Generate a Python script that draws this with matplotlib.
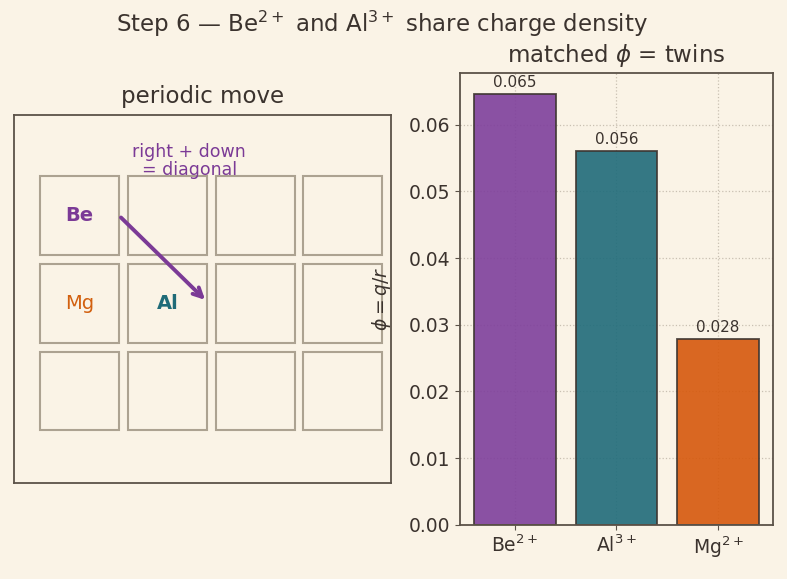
import matplotlib
matplotlib.use("Agg")
import matplotlib.pyplot as plt
from matplotlib.patches import Rectangle

BG = "#faf3e6"
INK = "#3b332e"
SPINE = "#5b5248"
PURPLE = "#7b3a96"
TEAL = "#1f6b78"
ORANGE = "#d2600f"

ions = ["Be$^{2+}$", "Al$^{3+}$", "Mg$^{2+}$"]
phi = [0.0645, 0.0561, 0.0278]
bar_colors = ["#7e3f9c", "#1f6b7a", "#d6580c"]

# periodic grid: 4 columns x 3 rows, element labels by (col, row)
n_cols, n_rows = 4, 3
elements = ["Be", "Mg", "Al"]
el_pos = [(0, 2), (0, 1), (1, 1)]
el_colors = [PURPLE, ORANGE, TEAL]
el_weight = ["bold", "normal", "bold"]

plt.rcParams["font.family"] = "DejaVu Sans"
plt.rcParams["text.color"] = INK
plt.rcParams["axes.labelcolor"] = INK
plt.rcParams["xtick.color"] = SPINE
plt.rcParams["ytick.color"] = SPINE
plt.rcParams["xtick.labelcolor"] = INK
plt.rcParams["ytick.labelcolor"] = INK

fig = plt.figure(figsize=(7.87, 5.79), dpi=100, facecolor=BG)

# left: periodic move
ax1 = fig.add_axes([0.0178, 0.1658, 0.479, 0.6356])
ax1.set_facecolor(BG)
for c in range(n_cols):
    for r in range(n_rows):
        ax1.add_patch(Rectangle((c, r), 0.9, 0.9, fill=False,
                                edgecolor="#aca291", lw=1.5))
for name, (c, r), col, w in zip(elements, el_pos, el_colors, el_weight):
    ax1.text(c + 0.45, r + 0.45, name, ha="center", va="center",
             color=col, fontsize=14, fontweight=w)
ax1.annotate("", xy=(1.88, 1.49), xytext=(0.92, 2.43),
             arrowprops=dict(arrowstyle="->", color=PURPLE, lw=2.8,
                             shrinkA=0, shrinkB=0, mutation_scale=16))
ax1.text(1.7, 3.08, "right + down\n= diagonal", ha="center", va="center",
         color=PURPLE, fontsize=12.5, linespacing=1.0)
ax1.set_xlim(-0.3, 4.0)
ax1.set_ylim(-0.6, 3.6)
ax1.set_xticks([])
ax1.set_yticks([])
for s in ax1.spines.values():
    s.set_color(SPINE)
    s.set_linewidth(1.3)
ax1.set_title("periodic move", fontsize=16.5, color=INK, pad=8.5)

# right: phi bars
ax2 = fig.add_axes([0.5845, 0.0933, 0.3977, 0.7807])
ax2.set_facecolor(BG)
ax2.grid(True, linestyle=":", color="#c9c0b2", lw=0.9)
ax2.set_axisbelow(True)
bars = ax2.bar(ions, phi, color=bar_colors, edgecolor="#3d3530",
               lw=1.3, alpha=0.9, width=0.8)
for b, v in zip(bars, phi):
    ax2.text(b.get_x() + b.get_width() / 2, v + 0.0006, f"{v:.3f}",
             ha="center", va="bottom", fontsize=11, color=INK)
ax2.set_ylabel(r"$\phi = q/r$", fontsize=13.5, labelpad=11)
ax2.set_title(r"matched $\phi$ = twins", fontsize=16.5, color=INK, pad=8)
ax2.tick_params(labelsize=13.5)
for s in ax2.spines.values():
    s.set_color(SPINE)
    s.set_linewidth(1.3)

fig.suptitle(r"Step 6 — Be$^{2+}$ and Al$^{3+}$ share charge density",
             fontsize=16.5, color=INK, x=0.485, y=0.985)

fig.savefig("out.png", dpi=100, facecolor=BG)
